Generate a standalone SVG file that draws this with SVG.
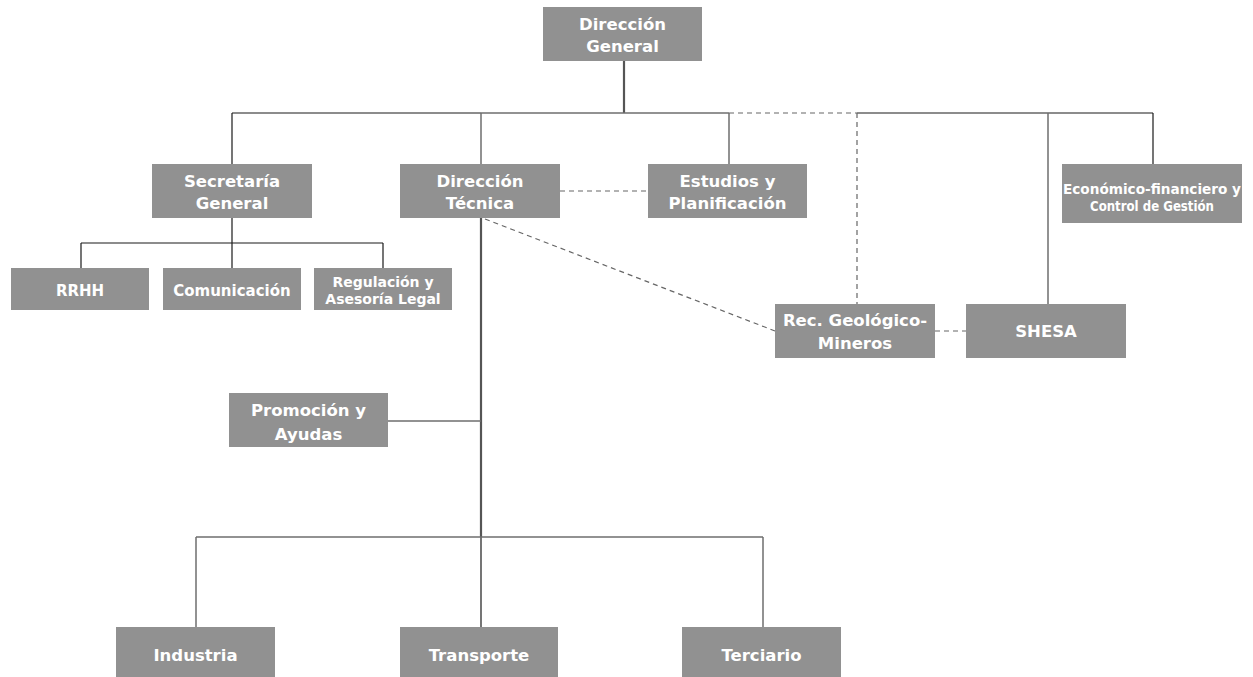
<svg xmlns="http://www.w3.org/2000/svg" width="1253" height="677" viewBox="0 0 1253 677">
<style>
.box{fill:#919191}
.t{font-family:"DejaVu Sans",Verdana,sans-serif;font-weight:bold;fill:#fff;text-anchor:middle;font-size:16.5px}
.s15{font-size:15px}
.s14{font-size:14px}
.s13{font-size:14px}
.k{stroke:#1a1a1a;stroke-width:1.2;fill:none}
.g{stroke:#6e6e6e;stroke-width:1.5;fill:none}
.gt{stroke:#555;stroke-width:2.2;fill:none}
.d{stroke:#666;stroke-width:1.2;stroke-dasharray:5 4;fill:none}
</style>
<rect width="1253" height="677" fill="#fff"/>
<g id="connectors">
<line class="gt" x1="624" y1="61" x2="624" y2="113"/>
<line class="k" x1="232" y1="113" x2="481" y2="113"/>
<line class="g" x1="481" y1="113" x2="729" y2="113"/>
<line class="d" x1="729" y1="113" x2="857" y2="113"/>
<line class="k" x1="857" y1="113" x2="1153" y2="113"/>
<line class="k" x1="232" y1="113" x2="232" y2="164"/>
<line class="g" x1="481" y1="113" x2="481" y2="164"/>
<line class="g" x1="729" y1="113" x2="729" y2="164"/>
<line class="d" x1="857" y1="113" x2="857" y2="304"/>
<line class="g" x1="1048" y1="113" x2="1048" y2="304"/>
<line class="k" x1="1153" y1="113" x2="1153" y2="164"/>
<line class="k" x1="232" y1="218" x2="232" y2="268"/>
<line class="k" x1="81" y1="243" x2="383" y2="243"/>
<line class="k" x1="81" y1="243" x2="81" y2="268"/>
<line class="k" x1="383" y1="243" x2="383" y2="268"/>
<line class="d" x1="560" y1="191" x2="648" y2="191"/>
<line class="d" x1="485" y1="219" x2="775" y2="331"/>
<line class="d" x1="935" y1="331" x2="966" y2="331"/>
<line class="gt" x1="481" y1="218" x2="481" y2="537"/>
<line class="k" x1="481" y1="537" x2="481" y2="627"/>
<line class="g" x1="388" y1="421" x2="481" y2="421"/>
<line class="g" x1="196" y1="537" x2="763" y2="537"/>
<line class="g" x1="196" y1="537" x2="196" y2="627"/>
<line class="g" x1="763" y1="537" x2="763" y2="627"/>
</g>
<g id="n-dg"><rect class="box" x="543" y="7" width="159" height="54"/><text class="t" x="622.5" y="30">Dirección</text><text class="t" x="622.5" y="52">General</text></g>
<g id="n-sg"><rect class="box" x="152" y="164" width="160" height="54"/><text class="t" x="232" y="187">Secretaría</text><text class="t" x="232" y="209">General</text></g>
<g id="n-dt"><rect class="box" x="400" y="164" width="160" height="54"/><text class="t" x="480" y="187">Dirección</text><text class="t" x="480" y="209">Técnica</text></g>
<g id="n-ep"><rect class="box" x="648" y="164" width="159" height="54"/><text class="t" x="727.5" y="187">Estudios y</text><text class="t" x="727.5" y="209">Planificación</text></g>
<g id="n-ef"><rect class="box" x="1062" y="164" width="180" height="59"/><text class="t s13" x="1152" y="194" textLength="178" lengthAdjust="spacingAndGlyphs">Económico-financiero y</text><text class="t s13" x="1152" y="211" textLength="124" lengthAdjust="spacingAndGlyphs">Control de Gestión</text></g>
<g id="n-rrhh"><rect class="box" x="11" y="268" width="138" height="42"/><text class="t s15" x="80" y="296">RRHH</text></g>
<g id="n-com"><rect class="box" x="163" y="268" width="138" height="42"/><text class="t s15" x="232" y="296">Comunicación</text></g>
<g id="n-reg"><rect class="box" x="314" y="268" width="138" height="42"/><text class="t s14" x="383" y="287">Regulación y</text><text class="t s14" x="383" y="304">Asesoría Legal</text></g>
<g id="n-rec"><rect class="box" x="775" y="304" width="160" height="54"/><text class="t" x="855" y="326">Rec. Geológico-</text><text class="t" x="855" y="349">Mineros</text></g>
<g id="n-shesa"><rect class="box" x="966" y="304" width="160" height="54"/><text class="t" x="1046" y="337">SHESA</text></g>
<g id="n-pa"><rect class="box" x="229" y="393" width="159" height="54"/><text class="t" x="308.5" y="416">Promoción y</text><text class="t" x="308.5" y="440">Ayudas</text></g>
<g id="n-ind"><rect class="box" x="116" y="627" width="159" height="50"/><text class="t" x="195.5" y="661">Industria</text></g>
<g id="n-tra"><rect class="box" x="400" y="627" width="158" height="50"/><text class="t" x="479" y="661">Transporte</text></g>
<g id="n-ter"><rect class="box" x="682" y="627" width="159" height="50"/><text class="t" x="761.5" y="661">Terciario</text></g>
</svg>
